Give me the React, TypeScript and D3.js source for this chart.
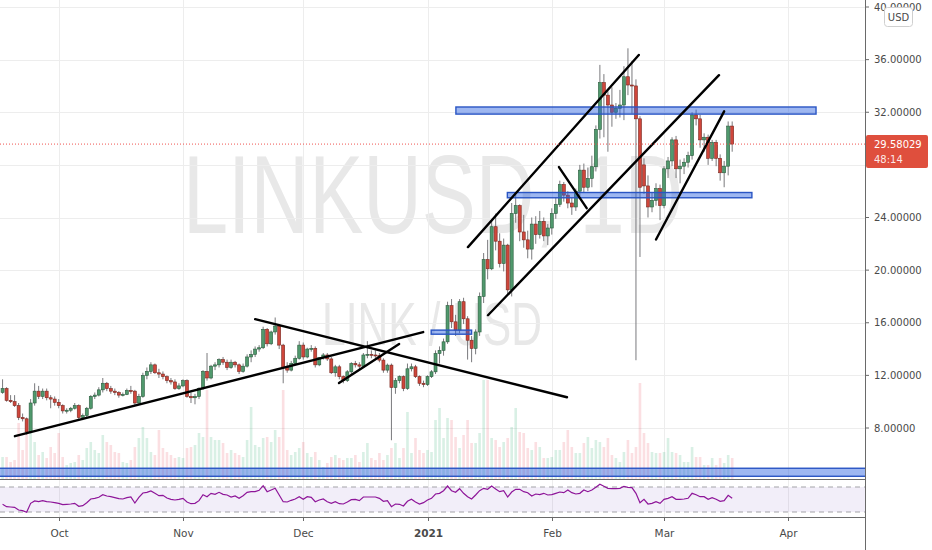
import * as d3 from "d3";

// LINK/USD daily candles, first candle on this date, one per day
const firstDay = "2020-09-17";

const opens = [
  10.7, 11.0, 10.1, 10.0, 9.7, 8.8, 8.7, 7.7, 9.9, 10.8, 10.4, 10.8, 10.3, 10.2, 9.95, 9.7, 9.3, 9.35, 9.5, 9.7,
  8.8, 8.95, 9.5, 10.4, 10.5, 10.9, 11.4, 11.0, 10.8, 10.7, 10.5, 10.55, 10.85, 10.8, 9.9, 10.4, 12.0, 12.3, 12.8, 12.2,
  12.1, 11.9, 11.6, 11.5, 11.0, 11.2, 11.6, 10.4, 10.3, 10.4, 11.0, 12.3, 11.8, 12.7, 12.8, 13.2, 13.0, 12.6, 13.0, 12.8,
  12.3, 12.7, 13.4, 13.6, 14.0, 14.1, 15.5, 14.4, 15.3, 15.75, 14.3, 12.6, 12.4, 12.9, 13.3, 14.3, 13.4, 14.0, 14.05, 12.8,
  13.35, 13.55, 13.25, 12.2, 12.65, 11.9, 11.6, 12.27, 12.9, 12.8, 12.7, 13.55, 13.6, 13.55, 13.5, 13.16, 12.4, 12.78, 11.08, 11.6,
  11.9, 11.0, 12.5, 12.65, 11.9, 11.4, 11.3, 11.9, 12.27, 13.66, 13.9, 14.55, 17.3, 16.07, 15.44, 17.6, 16.3, 14.67, 14.05, 15.3,
  18.0, 20.8, 20.1, 23.3, 22.2, 20.5, 21.9, 18.5, 24.3, 24.9, 22.9, 22.3, 21.6, 23.5, 22.7, 23.7, 22.6, 23.2, 24.3, 25.0,
  26.5, 25.7, 25.1, 24.8, 26.0, 27.6, 26.3, 26.97, 27.86, 30.7, 34.25, 33.3, 32.55, 32.0, 32.3, 32.55, 34.7, 34.07, 34.0, 31.5,
  28.0, 26.4, 24.8, 25.3, 26.2, 24.9, 27.7, 28.3, 29.9, 27.7, 27.9, 28.2, 28.7, 31.8, 31.5, 29.9, 30.1, 28.5, 29.7, 28.5,
  27.4, 27.9, 30.95,
];
const highs = [
  11.7, 11.1, 10.5, 10.5, 9.9, 9.1, 8.8, 10.2, 11.4, 11.2, 11.0, 11.0, 10.5, 10.4, 10.2, 9.8, 9.5, 9.6, 9.9, 9.8,
  9.1, 9.6, 10.5, 10.7, 11.1, 11.8, 11.5, 11.2, 11.0, 10.8, 10.7, 11.0, 11.2, 10.9, 10.6, 12.2, 12.6, 13.0, 12.9, 12.5,
  12.3, 12.0, 11.8, 11.7, 11.4, 11.7, 11.7, 10.7, 10.6, 11.1, 12.4, 13.7, 12.8, 13.0, 13.3, 13.4, 13.2, 13.2, 13.1, 12.9,
  12.9, 13.6, 13.9, 14.2, 14.3, 15.7, 15.6, 15.4, 16.4, 15.9, 14.4, 13.0, 13.1, 13.5, 14.6, 14.5, 14.1, 14.3, 14.2, 13.4,
  13.7, 13.7, 13.4, 12.8, 12.8, 12.0, 12.4, 13.0, 13.1, 13.0, 13.7, 14.6, 13.9, 13.9, 13.7, 13.3, 12.9, 12.9, 11.8, 12.0,
  12.0, 12.9, 12.9, 12.8, 12.0, 11.6, 12.0, 12.4, 13.9, 14.2, 14.8, 17.6, 17.8, 16.6, 17.8, 17.9, 16.5, 15.0, 15.5, 18.3,
  21.3, 22.3, 23.8, 24.3, 22.8, 22.4, 22.0, 25.1, 25.8, 25.0, 24.2, 23.0, 24.0, 24.1, 24.5, 24.0, 23.5, 24.7, 25.5, 26.8,
  26.7, 26.0, 25.5, 26.2, 28.0, 28.1, 27.8, 28.7, 31.0, 35.6, 34.9, 33.6, 33.9, 32.7, 33.7, 35.5, 36.86, 35.9, 34.5, 31.7,
  28.5, 27.2, 25.9, 26.6, 26.5, 27.9, 28.6, 30.1, 30.2, 28.4, 28.5, 29.0, 32.0, 32.2, 31.8, 30.4, 30.3, 29.9, 29.9, 28.8,
  28.3, 31.3, 31.3,
];
const lows = [
  10.6, 10.0, 9.9, 9.6, 8.6, 8.5, 7.5, 7.6, 9.7, 10.2, 10.2, 10.1, 9.5, 9.7, 9.5, 9.1, 9.1, 9.2, 9.4, 8.6,
  8.6, 8.8, 9.4, 10.2, 10.4, 10.7, 10.8, 10.6, 10.5, 10.3, 10.4, 10.5, 10.6, 9.7, 9.8, 10.3, 11.7, 12.1, 12.1, 11.8,
  11.7, 11.4, 11.3, 10.9, 10.9, 11.1, 10.3, 9.9, 9.8, 10.2, 10.9, 11.6, 11.7, 12.4, 12.6, 12.8, 12.4, 12.5, 12.6, 12.1,
  12.2, 12.6, 13.0, 13.4, 13.8, 14.0, 14.2, 14.3, 15.1, 14.0, 11.4, 12.2, 12.3, 12.8, 13.2, 13.2, 13.3, 13.8, 12.6, 12.7,
  13.2, 13.1, 12.1, 11.9, 11.7, 11.4, 11.5, 12.1, 12.6, 12.5, 12.6, 13.3, 13.3, 13.3, 13.0, 12.2, 12.2, 7.07, 10.6, 11.4,
  10.8, 10.9, 12.3, 11.8, 11.2, 11.1, 11.2, 11.8, 12.1, 12.9, 13.5, 14.4, 15.6, 15.0, 15.2, 15.9, 13.2, 13.0, 13.6, 15.0,
  17.5, 19.3, 20.0, 21.5, 20.2, 19.9, 18.1, 18.0, 23.6, 22.2, 21.7, 20.9, 20.8, 22.0, 22.4, 22.2, 21.9, 22.7, 23.9, 24.8,
  25.2, 24.7, 24.2, 24.5, 25.6, 25.9, 26.0, 26.3, 27.5, 30.0, 30.1, 29.0, 30.9, 31.5, 31.6, 31.4, 33.3, 31.9, 13.15, 21.0,
  25.8, 24.0, 24.4, 24.9, 23.8, 24.7, 27.0, 27.9, 27.0, 26.6, 27.3, 27.8, 28.4, 31.0, 29.3, 29.0, 28.0, 28.3, 27.9, 26.8,
  26.3, 27.2, 29.0,
];
const closes = [
  11.0, 10.1, 10.0, 9.7, 8.8, 8.7, 7.7, 9.9, 10.8, 10.4, 10.8, 10.3, 10.2, 9.95, 9.7, 9.3, 9.35, 9.5, 9.7, 8.8,
  8.95, 9.5, 10.4, 10.5, 10.9, 11.4, 11.0, 10.8, 10.7, 10.5, 10.55, 10.85, 10.8, 9.9, 10.4, 12.0, 12.3, 12.8, 12.2, 12.1,
  11.9, 11.6, 11.5, 11.0, 11.2, 11.6, 10.4, 10.3, 10.4, 11.0, 12.3, 11.8, 12.7, 12.8, 13.2, 13.0, 12.6, 13.0, 12.8, 12.3,
  12.7, 13.4, 13.6, 14.0, 14.1, 15.5, 14.4, 15.3, 15.75, 14.3, 12.6, 12.4, 12.9, 13.3, 14.3, 13.4, 14.0, 14.05, 12.8, 13.35,
  13.55, 13.25, 12.2, 12.65, 11.9, 11.6, 12.27, 12.9, 12.8, 12.7, 13.55, 13.6, 13.55, 13.5, 13.16, 12.4, 12.78, 11.08, 11.6, 11.9,
  11.0, 12.5, 12.65, 11.9, 11.4, 11.3, 11.9, 12.27, 13.66, 13.9, 14.55, 17.3, 16.07, 15.44, 17.6, 16.3, 14.67, 14.05, 15.3, 18.0,
  20.8, 20.1, 23.3, 22.2, 20.5, 21.9, 18.5, 24.3, 24.9, 22.9, 22.3, 21.6, 23.5, 22.7, 23.7, 22.6, 23.2, 24.3, 25.0, 26.5,
  25.7, 25.1, 24.8, 26.0, 27.6, 26.3, 26.97, 27.86, 30.7, 34.25, 33.3, 32.55, 32.0, 32.3, 32.55, 34.7, 34.07, 34.0, 31.5, 26.3,
  26.4, 24.8, 25.3, 26.2, 24.9, 27.7, 28.3, 29.9, 27.7, 27.9, 28.2, 28.7, 31.8, 31.5, 29.9, 30.1, 28.5, 29.7, 28.5, 27.4,
  27.9, 30.95, 29.58029,
];
const volumes = [
  22, 22, 17, 19, 56, 29, 56, 59, 37, 24, 27, 21, 32, 26, 46, 22, 14, 16, 17, 24,
  19, 31, 37, 29, 26, 44, 37, 34, 27, 26, 17, 16, 19, 32, 41, 52, 41, 27, 24, 49,
  31, 27, 24, 21, 22, 21, 31, 32, 34, 46, 42, 89, 42, 39, 39, 36, 26, 29, 26, 24,
  22, 39, 72, 34, 32, 41, 42, 37, 49, 42, 89, 29, 24, 27, 31, 37, 26, 22, 27, 19,
  12, 16, 22, 24, 21, 19, 21, 21, 24, 17, 27, 36, 21, 19, 26, 19, 24, 31, 36, 21,
  31, 67, 26, 41, 29, 26, 29, 27, 59, 71, 41, 61, 59, 42, 31, 44, 59, 36, 36, 46,
  99, 99, 41, 39, 32, 37, 41, 52, 71, 47, 46, 31, 29, 37, 32, 21, 21, 22, 29, 29,
  37, 49, 32, 26, 26, 36, 42, 31, 39, 37, 32, 41, 24, 21, 17, 27, 39, 26, 32, 96,
  46, 36, 27, 26, 26, 27, 41, 27, 26, 24, 17, 17, 32, 22, 22, 14, 14, 21, 14, 21,
  16, 24, 21,
];
const rsi14 = [
  42.3, 38.5, 38, 37.5, 33.2, 32.1, 29.5, 43.9, 47.6, 46.5, 48.1, 46.5, 46, 44.9, 43.9, 41.7, 42.3, 42.8, 43.9, 39.1,
  40.1, 44.9, 50.8, 51.9, 53.5, 57.7, 55.6, 54.5, 52.9, 51.3, 50.8, 52.9, 54, 44.4, 53.5, 60.4, 61.5, 63.6, 59.9, 56.1,
  56.7, 52.4, 50.3, 49.2, 50.3, 51.9, 46, 43.3, 43.9, 48.1, 57.7, 54.5, 59.9, 58.3, 61.5, 58.3, 57.2, 54, 55.6, 51.9,
  56.1, 61.5, 62.5, 62.5, 64.7, 72.1, 62.5, 65.2, 67.9, 57.2, 46.5, 46, 48.7, 50.8, 54.5, 50.3, 54.5, 53.5, 46.5, 49.2,
  50.8, 46.5, 43.9, 46.5, 43.3, 42.8, 46, 49.7, 50.3, 48.1, 54, 54, 54, 54, 51.9, 47.1, 48.1, 38.5, 42.8, 42.3,
  39.6, 47.1, 50.3, 46, 42.8, 44.9, 49.2, 51.9, 58.8, 59.9, 64.1, 71.6, 64.1, 61.5, 67.3, 59.9, 54.5, 50.8, 57.2, 64.1,
  67.9, 66.3, 71.6, 66.8, 62.5, 64.1, 54.0, 62.0, 66.3, 66.3, 62.5, 60.9, 55.6, 58.8, 57.7, 59.9, 57.2, 57.7, 59.9, 62.0,
  60.9, 65.2, 60.9, 58.8, 59.9, 65.2, 62.5, 65.2, 69.5, 74.3, 71.1, 67.9, 67.3, 67.3, 67.9, 71.1, 69.5, 68.9, 59.9, 44.9,
  50.3, 42.8, 43.9, 46.5, 43.9, 50.3, 51.9, 54.5, 50.3, 50.3, 50.8, 51.9, 59.9, 57.7, 54.5, 54.5, 50.3, 53.0, 50.3, 47.1,
  48.1, 56.7, 51.9,
];

const priceGrid = [8, 12, 16, 20, 24, 28, 32, 36, 40];
const priceLabels = [8, 12, 16, 20, 24, 32, 36, 40];
const monthTicks = [
  ["2020-10-01", "Oct"],
  ["2020-11-01", "Nov"],
  ["2020-12-01", "Dec"],
  ["2021-01-01", "2021"],
  ["2021-02-01", "Feb"],
  ["2021-03-01", "Mar"],
  ["2021-04-01", "Apr"],
];

// drawings on the chart: [time, price] pairs
const trendLines = [
  [["2020-09-20T02:00", 7.38], ["2020-12-30T22:00", 15.29]],
  [["2020-11-19T00:00", 16.27], ["2021-02-04T19:00", 10.34]],
  [["2020-12-09T22:00", 11.42], ["2020-12-24T22:00", 14.39]],
  [["2021-01-11T02:00", 21.75], ["2021-02-22T17:00", 36.35]],
  [["2021-01-16T02:00", 16.57], ["2021-03-14T17:00", 34.82]],
  [["2021-02-02T19:00", 27.83], ["2021-02-09T17:00", 24.71]],
  [["2021-02-27T00:00", 22.33], ["2021-03-16T00:00", 32.07]],
];
const zones = [
  ["2021-01-08T02:00", "2021-04-07T22:00", 32.4, 31.86],
  ["2021-01-20T22:00", "2021-03-22T22:00", 25.9, 25.5],
  ["2021-01-01T22:00", "2021-01-12T00:00", 15.44, 15.13],
  ["2020-09-10T00:00", "2021-04-30T00:00", 4.94, 4.33],
];

const lastPrice = 29.58029;
const countdown = "48:14";

const upFill = "#50996d";
const upLine = "#2b5c3e";
const downFill = "#cf463b";
const downLine = "#782820";
const gridColor = "#ededed";
const axisColor = "#6a6a6a";
const textColor = "#4a4a4a";
const font = "DejaVu Sans";

const parseTime = d3.utcParse("%Y-%m-%dT%H:%M");
const parseDay = d3.utcParse("%Y-%m-%d");

export default function App() {
  const width = 932;
  const height = 550;
  const paneRight = 865;
  const mainBottom = 479;
  const axisY = 517;

  const x = d3.scaleUtc([parseDay("2020-10-01"), parseDay("2021-04-01")], [58.7, 788.3]);
  const y = d3.scaleLinear([8, 40], [428, 7]);
  const yVol = d3.scaleLinear([0, 100], [mainBottom, mainBottom - 100]);
  const yRsi = d3.scaleLinear([30, 70], [512, 487]);

  const start = parseDay(firstDay);
  const candles = closes.map((c, i) => ({
    date: d3.utcDay.offset(start, i),
    o: opens[i],
    h: highs[i],
    l: lows[i],
    c,
    v: volumes[i],
    r: rsi14[i],
  }));

  const rsiLine = d3.line((d) => x(d.date), (d) => yRsi(d.r));
  const segment = d3.line((p) => x(parseTime(p[0])), (p) => y(p[1]));

  return (
    <div style={{ position: "fixed", left: 0, top: 0 }}>
      <svg width={width} height={height} style={{ display: "block", background: "#fff" }}>
        <defs>
          <clipPath id="main">
            <rect x={0} y={0} width={paneRight} height={mainBottom} />
          </clipPath>
          <clipPath id="rsi">
            <rect x={0} y={mainBottom + 1} width={paneRight} height={axisY - mainBottom - 1} />
          </clipPath>
        </defs>

        {/* watermark */}
        <g fill="#e8e8e8" fontFamily="Liberation Sans" textAnchor="middle">
          <text x={433} y={233} fontSize={112} textLength={500} lengthAdjust="spacingAndGlyphs">
            LINKUSD, 1D
          </text>
          <text x={432} y={345} fontSize={61} textLength={220} lengthAdjust="spacingAndGlyphs">
            LINK / USD
          </text>
        </g>

        {/* grid */}
        <g stroke={gridColor} strokeWidth={1}>
          {priceGrid.map((p) => (
            <line key={p} x1={0} x2={paneRight} y1={Math.round(y(p)) + 0.5} y2={Math.round(y(p)) + 0.5} />
          ))}
          {monthTicks.map(([d]) => (
            <line key={d} x1={Math.round(x(parseDay(d))) + 0.5} x2={Math.round(x(parseDay(d))) + 0.5} y1={0} y2={axisY} />
          ))}
        </g>

        <g clipPath="url(#main)">
          {/* volume */}
          {candles.map((d, i) => (
            <rect
              key={"v" + i}
              x={x(d.date) - 1.3}
              width={2.6}
              y={yVol(d.v)}
              height={yVol(0) - yVol(d.v)}
              fill={d.c >= d.o ? "rgba(83,185,135,0.22)" : "rgba(235,77,92,0.18)"}
            />
          ))}

          {/* candles */}
          {candles.map((d, i) => {
            const cx = x(d.date);
            const up = d.c >= d.o;
            const top = y(Math.max(d.o, d.c));
            const bh = Math.max(1, Math.abs(y(d.o) - y(d.c)));
            return (
              <g key={"c" + i}>
                <line x1={cx} x2={cx} y1={y(d.h)} y2={y(d.l)} stroke="#7a7a7d" strokeWidth={1} />
                <rect
                  x={cx - 1.5}
                  width={3}
                  y={top}
                  height={bh}
                  fill={up ? upFill : downFill}
                  stroke={up ? upLine : downLine}
                  strokeWidth={0.6}
                />
              </g>
            );
          })}

          {/* rectangles */}
          {zones.map(([a, b, hi, lo], i) => (
            <rect
              key={"z" + i}
              x={x(parseTime(a))}
              width={x(parseTime(b)) - x(parseTime(a))}
              y={y(hi)}
              height={y(lo) - y(hi)}
              fill="rgba(40,95,225,0.45)"
              stroke="#2a55c4"
              strokeWidth={1.4}
            />
          ))}

          {/* trend lines */}
          {trendLines.map((pts, i) => (
            <path key={"t" + i} d={segment(pts)} stroke="#000" strokeWidth={2.4} fill="none" strokeLinecap="round" />
          ))}

          {/* last price line */}
          <line
            x1={0}
            x2={paneRight}
            y1={y(lastPrice)}
            y2={y(lastPrice)}
            stroke="#ef5350"
            strokeWidth={1}
            strokeDasharray="1 2"
          />
        </g>

        {/* pane separator */}
        <line x1={0} x2={paneRight} y1={mainBottom + 0.5} y2={mainBottom + 0.5} stroke={axisColor} strokeWidth={1} />

        {/* RSI pane */}
        <g clipPath="url(#rsi)">
          <rect x={0} width={paneRight} y={yRsi(70)} height={yRsi(30) - yRsi(70)} fill="rgba(126,87,194,0.1)" />
          {[70, 30].map((v) => (
            <line
              key={v}
              x1={0}
              x2={paneRight}
              y1={yRsi(v)}
              y2={yRsi(v)}
              stroke="#a3a3a8"
              strokeWidth={1}
              strokeDasharray="5 4"
            />
          ))}
          <path d={rsiLine(candles)} fill="none" stroke="#8e1599" strokeWidth={1.2} />
        </g>

        {/* time axis */}
        <line x1={0} x2={paneRight} y1={axisY + 0.5} y2={axisY + 0.5} stroke={axisColor} strokeWidth={1} />
        <g fontFamily={font} fontSize={10.5} fill={textColor} textAnchor="middle">
          {monthTicks.map(([d, label]) => {
            const px = Math.round(x(parseDay(d))) + 0.5;
            return (
              <g key={d}>
                <line x1={px} x2={px} y1={axisY} y2={axisY + 4} stroke={axisColor} />
                <text x={px} y={537} fontWeight={label === "2021" ? "bold" : "normal"}>
                  {label}
                </text>
              </g>
            );
          })}
        </g>

        {/* price axis */}
        <line x1={paneRight + 0.5} x2={paneRight + 0.5} y1={0} y2={height} stroke={axisColor} strokeWidth={1} />
        <g fontFamily={font} fontSize={10} fill={textColor}>
          {priceLabels.map((p) => (
            <g key={p}>
              <line x1={paneRight} x2={paneRight + 4} y1={y(p)} y2={y(p)} stroke={axisColor} />
              <text x={874} y={y(p)} dominantBaseline="central">
                {p.toFixed(5)}
              </text>
            </g>
          ))}
        </g>

        {/* last price label */}
        <rect x={866} y={y(lastPrice) - 9} width={62} height={33} fill="#df4f3d" rx={2} />
        <g fontFamily={font} fontSize={10} fill="#fff">
          <text x={874} y={y(lastPrice)} dominantBaseline="central">
            {lastPrice.toFixed(5)}
          </text>
          <text x={874} y={y(lastPrice) + 15} dominantBaseline="central" fillOpacity={0.9}>
            {countdown}
          </text>
        </g>

        {/* currency badge */}
        <rect x={884.5} y={7.5} width={28} height={19} rx={3} fill="#fff" stroke="#cfcfcf" />
        <text x={898.5} y={17} fontFamily={font} fontSize={10} fill={textColor} textAnchor="middle" dominantBaseline="central">
          USD
        </text>
      </svg>
    </div>
  );
}
